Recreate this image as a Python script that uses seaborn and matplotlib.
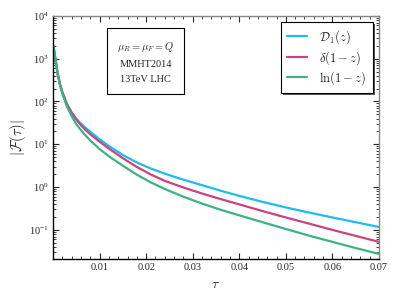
import numpy as np
import pandas as pd
import matplotlib
matplotlib.use("Agg")
import matplotlib.pyplot as plt
from matplotlib.patches import Rectangle
from matplotlib.ticker import FixedLocator, MultipleLocator, LogLocator, NullFormatter
import seaborn as sns

tau = [0.0001, 0.0003, 0.0006, 0.001, 0.0015, 0.002, 0.003, 0.004, 0.005, 0.006,
       0.007, 0.008, 0.01, 0.012, 0.015, 0.018, 0.021, 0.024, 0.028, 0.032,
       0.036, 0.04, 0.045, 0.05, 0.055, 0.06, 0.065, 0.07]

# |F(tau)|, per channel
f_d1 = [2000, 1410, 891, 447, 257, 166, 87, 56, 39.8, 30.5,
        24.3, 19.7, 13.15, 9.10, 5.61, 3.76, 2.72, 2.06, 1.49, 1.11,
        0.822, 0.624, 0.452, 0.335, 0.254, 0.195, 0.151, 0.117]
f_delta = [2000, 1410, 891, 447, 257, 166, 86, 54.3, 37.6, 27.9,
           21.6, 17.2, 11.5, 7.94, 4.73, 2.95, 1.97, 1.40, 0.977, 0.708,
           0.525, 0.394, 0.275, 0.195, 0.140, 0.100, 0.0724, 0.0525]
f_log = [1950, 1350, 851, 427, 240, 151, 75.9, 45.7, 29.5, 21.4,
         16.0, 12.3, 7.76, 5.25, 3.16, 1.95, 1.29, 0.902, 0.596, 0.412,
         0.295, 0.219, 0.151, 0.105, 0.0733, 0.0525, 0.0376, 0.0275]

labels = [r"$\mathcal{D}_1(z)$", r"$\delta(1-z)$", r"$\ln(1-z)$"]
colors = ["#1cbcf0", "#c9447f", "#3db383"]

df = pd.concat([
    pd.DataFrame({"tau": tau, "F": f_d1, "channel": labels[0]}),
    pd.DataFrame({"tau": tau, "F": f_delta, "channel": labels[1]}),
    pd.DataFrame({"tau": tau, "F": f_log, "channel": labels[2]}),
])

sns.set_style("ticks")
plt.rcParams["font.family"] = ["Liberation Serif", "DejaVu Serif"]
plt.rcParams["mathtext.fontset"] = "cm"

fig = plt.figure(figsize=(4, 3), dpi=100)
ax = fig.add_axes([0.1325, 0.137, 0.815, 0.81])

sns.lineplot(data=df, x="tau", y="F", hue="channel", palette=colors,
             linewidth=1.6, ax=ax)

ax.set_yscale("log")
ax.set_xlim(0, 0.07)
ax.set_ylim(0.021, 1e4)

ax.xaxis.set_major_locator(FixedLocator([0.01, 0.02, 0.03, 0.04, 0.05, 0.06, 0.07]))
ax.xaxis.set_minor_locator(MultipleLocator(0.002))
ax.set_xticklabels(["0.01", "0.02", "0.03", "0.04", "0.05", "0.06", "0.07"])
yt = [0.1, 1, 10, 100, 1000, 10000]
ax.yaxis.set_major_locator(FixedLocator(yt))
ax.set_yticklabels([r"$\mathregular{10^{%d}}$" % e for e in [-1, 0, 1, 2, 3, 4]])
ax.yaxis.set_minor_locator(LogLocator(base=10, subs=np.arange(2, 10), numticks=20))
ax.yaxis.set_minor_formatter(NullFormatter())

ax.tick_params(which="both", direction="in", top=True, right=True,
               labelsize=7.5, pad=3)
ax.tick_params(which="major", length=4, width=0.8)
ax.tick_params(which="minor", length=2, width=0.6)

for s in ["left", "bottom"]:
    ax.spines[s].set_color("black")
    ax.spines[s].set_linewidth(1.0)
for s in ["top", "right"]:
    ax.spines[s].set_color("#888888")
    ax.spines[s].set_linewidth(1.0)

ax.set_xlabel(r"$\tau$", fontsize=10, labelpad=4)
ax.set_ylabel(r"$|\mathcal{F}(\tau)|$", fontsize=10.5, labelpad=1)

ax.text(0.285, 0.81, "$\\mu_R = \\mu_F = Q$\nMMHT2014\n13TeV LHC",
        transform=ax.transAxes, ha="center", va="center", fontsize=7.5,
        linespacing=1.9,
        bbox=dict(boxstyle="square,pad=0.95", facecolor="white",
                  edgecolor="black", linewidth=0.8))

leg = ax.legend(loc="upper right", fontsize=9, frameon=True, fancybox=False,
                edgecolor="black", framealpha=1,
                handlelength=1.6, labelspacing=0.22, borderpad=0.5,
                handletextpad=1.0, borderaxespad=0.5)
leg.get_frame().set_linewidth(0.8)
leg.set_zorder(6)

# thin drop shadow behind the legend box
fig.canvas.draw()
bb = leg.get_window_extent().transformed(fig.transFigure.inverted())
dx, dy = 2.0 / 400, 2.0 / 300
shadow = Rectangle((bb.x0 + dx, bb.y0 - dy), bb.width, bb.height,
                   transform=fig.transFigure, facecolor="#555555",
                   edgecolor="none", zorder=5.5, clip_on=False)
ax.add_patch(shadow)

fig.savefig("out.png", dpi=100)
